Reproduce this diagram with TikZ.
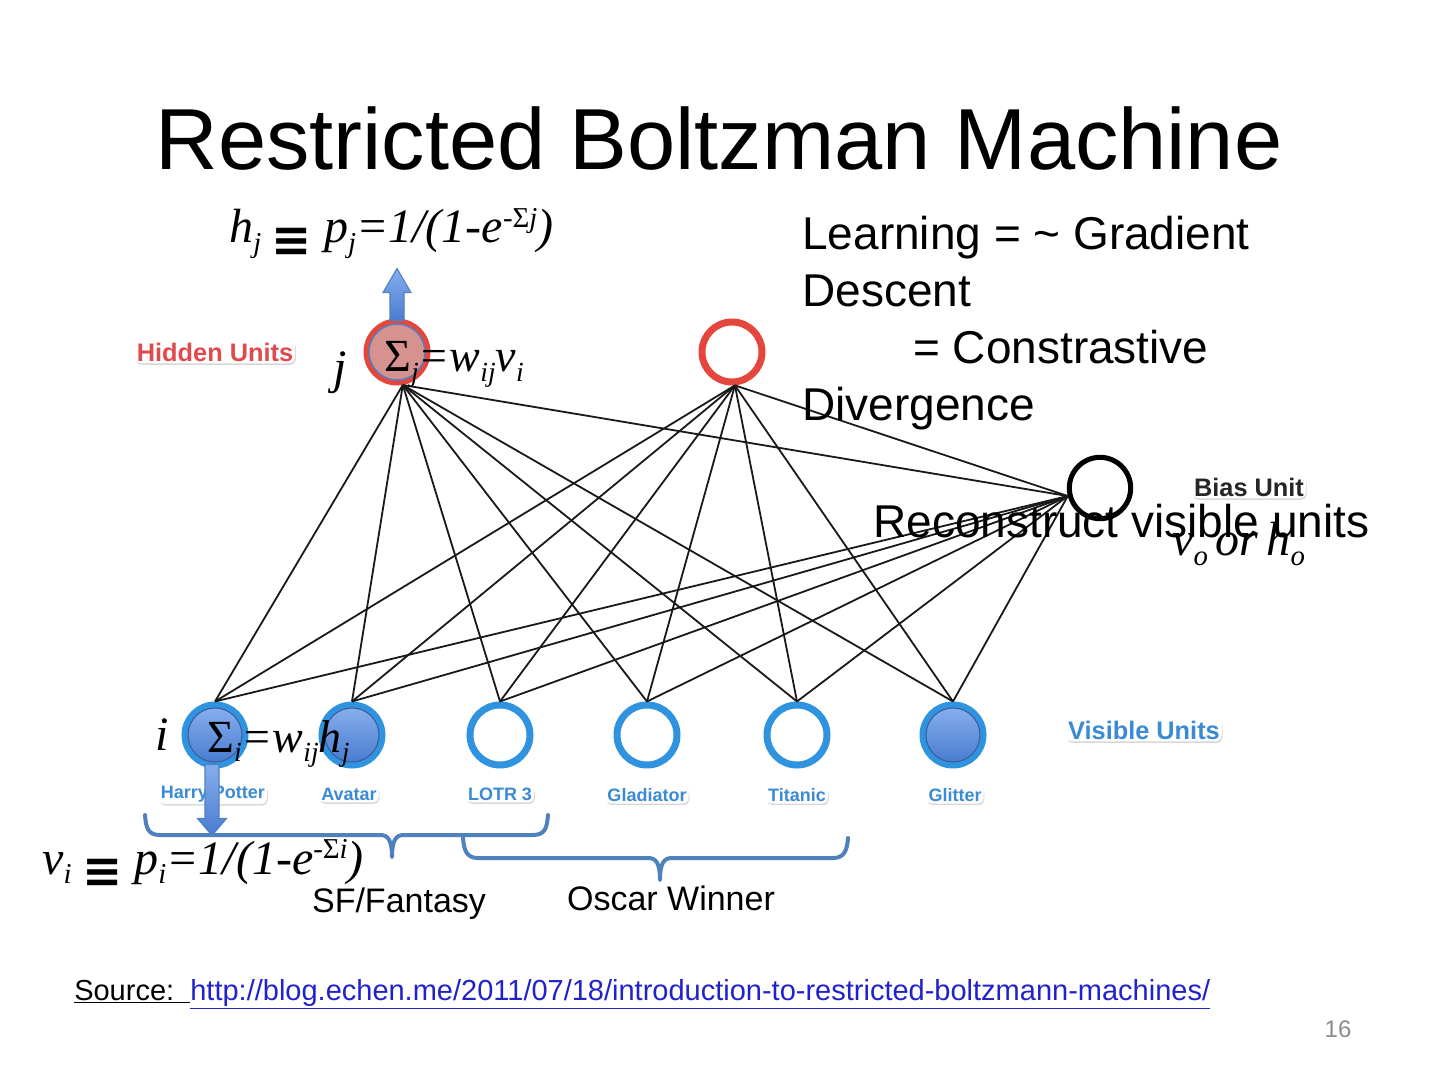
\documentclass[tikz,border=0pt]{standalone}
\usepackage{fontspec}
\usepackage{graphicx}
\setmainfont{Liberation Serif}
\setsansfont{Liberation Sans}
\newfontfamily\dejavu{DejaVu Sans}
\usetikzlibrary{shadows,calc}
\definecolor{ringred}{HTML}{E5463C}
\definecolor{hpink}{HTML}{D6928F}
\definecolor{hborder}{HTML}{5E7DB8}
\definecolor{ringblue}{HTML}{2F93E0}
\definecolor{vtop}{HTML}{86AEEE}
\definecolor{vbot}{HTML}{4A7CCF}
\definecolor{vedge}{HTML}{3C5E96}
\definecolor{bracecol}{HTML}{4F81BD}
\definecolor{lblred}{HTML}{E04A4C}
\definecolor{lblblue}{HTML}{3A8AD5}
\definecolor{linkblue}{HTML}{2222CC}
\definecolor{pagegray}{HTML}{8C8C8C}
\newcommand\subx[1]{\raisebox{-0.2em}{\scalebox{0.6}{#1}}}
\newcommand\supx[1]{\raisebox{0.32em}{\scalebox{0.6}{#1}}}
\newcommand\eqv{{\upshape\dejavu\bfseries\raisebox{-0.28em}{≡}}}
\begin{document}
\begin{tikzpicture}[x=0.75pt,y=-0.75pt,
  unit/.style={circle, minimum size=45pt, inner sep=0pt, line width=5.25pt},
  hid/.style={unit, draw=ringred, fill=white},
  vis/.style={unit, draw=ringblue, fill=white},
  biasu/.style={circle, minimum size=46pt, inner sep=0pt, line width=3.8pt, draw=black, fill=white},
  edge/.style={line width=1.35pt, black!90},
  lbl/.style={font=\sffamily\bfseries\fontsize{19}{20}\selectfont, fill=white, rounded corners=4pt, inner sep=1.5pt, drop shadow={opacity=0.3, shadow xshift=0.6pt, shadow yshift=-1.2pt}},
  mov/.style={lbl, text=lblblue, font=\sffamily\bfseries\fontsize{13.5}{15}\selectfont},
  eqA/.style={inner sep=0pt, anchor=base west, font=\fontsize{36}{40}\selectfont\itshape},
  eqB/.style={inner sep=0pt, anchor=base west, font=\fontsize{34.5}{38}\selectfont\itshape},
  body/.style={inner sep=0pt, anchor=base west, font=\sffamily\fontsize{34.5}{40}\selectfont},
  brace/.style={draw=bracecol, line width=3pt, line cap=round, line join=round},
  blockarrow/.style={draw=bracecol, line width=0.8pt, top color=vtop, bottom color=vbot}
]
\fill[white] (0,0) rectangle (1440,1080);
\useasboundingbox (0,0) rectangle (1440,1080);

% title
\node[anchor=base, inner sep=0pt, font=\sffamily\fontsize{65}{72}\selectfont] (title) at (719,170) {Restricted Boltzman Machine};

% units
\node[hid] (h1) at (397,352) {};
\node[hid] (h2) at (732,352) {};
\node[biasu] (bias) at (1100,488) {};
\node[vis] (v1) at (215,735) {};
\node[vis] (v2) at (352,735) {};
\node[vis] (v3) at (500,735) {};
\node[vis] (v4) at (647,735) {};
\node[vis] (v5) at (797,735) {};
\node[vis] (v6) at (953,735) {};
\filldraw[fill=hpink, draw=hborder, line width=1.2pt] (h1.center) circle[radius=28];
\foreach \v in {v1,v2,v6}
  \shade[top color=vtop, bottom color=vbot, draw=vedge, line width=0.8pt] (\v.center) circle[radius=27];

% connections
\foreach \v in {v1,v2,v3,v4,v5,v6} {
  \draw[edge] (h1.-80) -- (\v.north);
  \draw[edge] (h2.-85) -- (\v.north);
  \draw[edge] (bias.194) -- (\v.north);
}
\draw[edge] (h1.-80) -- (bias.194);
\draw[edge] (h2.-85) -- (bias.194);

% labels
\node[lbl, text=lblred] (hidlbl) at (215,352) {Hidden Units};
\node[lbl, text=black!85] (biaslbl) at (1249,487) {Bias Unit};
\node[lbl, text=lblblue] (vislbl) at (1144,730) {Visible Units};
\node[mov] (m1) at (213,794) {Harry Potter};
\node[mov] (m2) at (349,794) {Avatar};
\node[mov] (m3) at (500,794) {LOTR 3};
\node[mov] (m4) at (647,795) {Gladiator};
\node[mov] (m5) at (797,795) {Titanic};
\node[mov] (m6) at (955,795) {Glitter};

% block arrows
\draw[blockarrow] ($(h1.north)+(-7,2)$) -- ($(h1.north)+(-7,-26)$) -- ($(h1.north)+(-14,-26)$) -- ($(h1.north)+(0,-50)$) -- ($(h1.north)+(14,-26)$) -- ($(h1.north)+(7,-26)$) -- ($(h1.north)+(7,2)$) -- cycle;
\draw[blockarrow] ($(v1.south)+(-10,-4)$) -- ($(v1.south)+(-10,50)$) -- ($(v1.south)+(-17.5,50)$) -- ($(v1.south)+(-3,67)$) -- ($(v1.south)+(11.5,50)$) -- ($(v1.south)+(4,50)$) -- ($(v1.south)+(4,-4)$) -- cycle;

% braces
\draw[brace] (145,815) .. controls (146,828) and (148,835) .. (160,835) -- (380,835) .. controls (388,835) and (392,840) .. (392,857) .. controls (392,840) and (396,835) .. (404,835) -- (533,835) .. controls (545,835) and (547,828) .. (548,815);
\draw[brace] (463,838) .. controls (464,851) and (467,858) .. (478,858) -- (648,858) .. controls (656,858) and (660,863) .. (660,880) .. controls (660,863) and (664,858) .. (672,858) -- (833,858) .. controls (844,858) and (847,851) .. (848,838);
\node[anchor=base, inner sep=0pt, font=\sffamily\fontsize{25.5}{28}\selectfont] (sf) at (399,912) {SF/Fantasy};
\node[anchor=base, inner sep=0pt, font=\sffamily\fontsize{25.5}{28}\selectfont] (osc) at (671,910) {Oscar Winner};

% side text
\node[body] (l1) at (802,250) {Learning = \textasciitilde{} Gradient};
\node[body] (l2) at (802,307) {Descent};
\node[body] (l3) at (913,364) {= Constrastive};
\node[body] (l4) at (802,421) {Divergence};
\node[body] (recon) at (873,538) {Reconstruct visible units};

% equations
\node[eqA] (hj) at (229,243) {h\subx{j}\hspace{0.22em}\eqv\hspace{0.25em}p\subx{j}=1/(1-e\supx{-{\upshape Σ}j})};
\node[eqA] (vi) at (42,874) {v\subx{i}\hspace{0.22em}\eqv\hspace{0.25em}p\subx{i}=1/(1-e\supx{-{\upshape Σ}i})};
\node[eqB] (sj) at (384,372) {{\upshape Σ}\subx{j}=w\subx{ij}v\subx{i}};
\node[eqB] (si) at (207,752) {{\upshape Σ}\subx{i}=w\subx{ij}h\subx{j}};
\node[eqA] (jl) at (333,384) {j};
\node[eqA] (il) at (155,750) {i};
\node[eqA] (vo) at (1172,556) {v\subx{o}\,or\,h\subx{o}};

% source and page number
\node[anchor=base west, inner sep=0pt, font=\sffamily\fontsize{21.75}{24}\selectfont] (src) at (74,1000) {\underline{Source:\ \ }\textcolor{linkblue}{\underline{http://blog.echen.me/2011/07/18/introduction-to-restricted-boltzmann-machines/}}};
\node[anchor=base, inner sep=0pt, text=pagegray, font=\sffamily\fontsize{18}{20}\selectfont] (pg) at (1338,1037) {16};
\end{tikzpicture}
\end{document}
